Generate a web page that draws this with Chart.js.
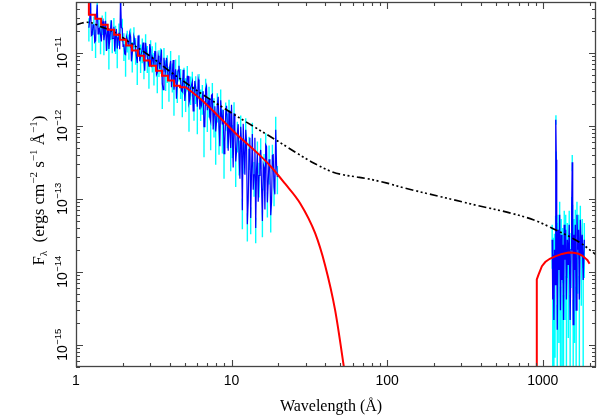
<!DOCTYPE html>
<html>
<head>
<meta charset="utf-8">
<script src="https://cdn.jsdelivr.net/npm/chart.js@4/dist/chart.umd.min.js"></script>
<style>
html,body{margin:0;padding:0;background:#fff;overflow:hidden;}
canvas{display:block;}
</style>
</head>
<body>
<canvas id="c" width="598" height="418"></canvas>
<script>
// ---------- DATA ----------
// X-ray spectrum, two interleaved sets of bins (wavelength in Angstrom, flux in erg cm^-2 s^-1 A^-1)
const xrayWave = [1.21,1.24,1.271,1.303,1.336,1.369,1.403,1.438,1.474,1.511,1.549,1.588,1.627,1.668,1.710,1.752,1.796,1.841,1.887,1.934,1.983,2.032,2.083,2.135,2.189,2.243,2.299,2.357,2.416,2.476,2.538,2.602,2.667,2.733,2.802,2.872,2.943,3.017,3.092,3.170,3.249,3.330,3.413,3.499,3.586,3.676,3.768,3.862,3.958,4.057,4.159,4.263,4.369,4.478,4.590,4.705,4.823,4.944,5.067,5.194,5.324,5.457,5.593,5.733,5.877,6.024,6.174,6.329,6.487,6.649,6.815,6.986,7.160,7.339,7.523,7.711,7.904,8.102,8.304,8.512,8.725,8.943,9.166,9.396,9.630,9.871,10.12,10.37,10.63,10.89,11.17,11.45,11.73,12.03,12.33,12.63,12.95,13.27,13.60,13.94,14.29,14.65,15.02,15.39,15.78,16.17,16.58,16.99,17.42,17.85,18.30,18.75,19.22,19.70];
const xrayFlux = [2.22e-11,5.5e-11,1.78e-11,2.48e-11,1.47e-11,4.6e-11,2.16e-11,1.75e-11,2.52e-11,1.5e-11,2.77e-11,1.8e-11,1.14e-11,2.16e-11,1.57e-11,2.29e-11,1.67e-11,1.15e-11,1.9e-11,6e-11,2.18e-11,1.32e-11,9.5e-12,1.52e-11,1.30e-11,1.67e-11,9.8e-12,1.67e-11,1.15e-11,7.3e-12,1.34e-11,9.2e-12,1.15e-11,8.1e-12,1.38e-11,8.9e-12,6.5e-12,1.11e-11,8.9e-12,6.8e-12,1.04e-11,5.4e-12,7.8e-12,8.4e-12,3.8e-12,8.6e-12,5.5e-12,6.6e-12,4.31e-12,7.8e-12,5.04e-12,3.14e-12,6.0e-12,3.9e-12,6.7e-12,4.2e-12,2.94e-12,4.5e-12,3.04e-12,4.8e-12,2.08e-12,3.35e-12,4.04e-12,2.36e-12,3.4e-12,1.84e-12,3.75e-12,2.17e-12,2.54e-12,9.8e-13,3.17e-12,1.65e-12,2.38e-12,1.16e-12,2.73e-12,1.55e-12,8.4e-13,1.96e-12,9.6e-13,2.26e-12,1.05e-12,4.2e-13,1.48e-12,9.9e-13,1.63e-12,5.0e-13,7.0e-13,1.49e-12,3.26e-13,7.9e-13,4.2e-13,9.8e-13,7.0e-14,4.45e-13,8.9e-13,4.5e-14,4.8e-13,5.5e-14,7.8e-13,2.15e-13,4.0e-14,4.2e-13,2.1e-13,4.7e-13,5.0e-14,2.73e-13,5.5e-13,9.0e-14,3.5e-13,6.0e-14,3.97e-13,1.45e-13,8.9e-13,2.0e-13];
const xrayRelErr = [0.35,0.3,0.4,0.28,0.42,0.3,0.36,0.45,0.3,0.38,0.33,0.4,0.48,0.3,0.37,0.32,0.42,0.46,0.34,0.25,0.35,0.41,0.5,0.33,0.38,0.3,0.45,0.35,0.4,0.5,0.33,0.42,0.37,0.46,0.31,0.4,0.5,0.35,0.39,0.47,0.34,0.48,0.4,0.38,0.55,0.36,0.45,0.41,0.5,0.37,0.43,0.56,0.36,0.47,0.39,0.44,0.55,0.4,0.49,0.38,0.6,0.42,0.37,0.5,0.41,0.58,0.38,0.46,0.44,0.62,0.4,0.5,0.45,0.6,0.42,0.55,0.65,0.43,0.58,0.4,0.6,0.55,0.42,0.5,0.4,0.52,0.48,0.42,0.55,0.45,0.5,0.42,0.45,0.5,0.44,0.42,0.48,0.4,0.42,0.5,0.38,0.46,0.5,0.45,0.4,0.52,0.45,0.38,0.55,0.42,0.4,0.45,0.5,0.42];
const xrayWave2 = [1.225,1.255,1.287,1.319,1.352,1.386,1.420,1.456,1.492,1.530,1.568,1.607,1.647,1.689,1.731,1.774,1.818,1.864,1.910,1.958,2.007,2.057,2.109,2.162,2.216,2.271,2.328,2.386,2.446,2.507,2.570,2.634,2.700,2.767,2.837,2.907,2.980,3.054,3.131,3.209,3.289,3.371,3.456,3.542,3.631,3.722,3.815,3.910,4.007,4.108,4.211,4.316,4.423,4.534,4.647,4.764,4.883,5.005,5.130,5.259,5.390,5.525,5.663,5.805,5.950,6.099,6.251,6.408,6.568,6.732,6.900,7.073,7.249,7.431,7.617,7.807,8.003,8.203,8.408,8.618,8.834,9.054,9.281,9.513,9.750,9.99,10.24,10.50,10.76,11.03,11.31,11.59,11.88,12.18,12.48,12.79,13.11,13.44,13.77,14.12,14.47,14.83,15.20,15.59,15.97,16.38,16.78,17.20,17.63,18.07,18.52,18.98,19.46];
const xrayFlux2 = [2.86e-11,1.73e-11,2.44e-11,1.41e-11,3.1e-11,1.83e-11,2.2e-11,1.44e-11,2.73e-11,1.86e-11,1.07e-11,2.2e-11,1.49e-11,2.8e-11,1.58e-11,1.05e-11,2.14e-11,1.62e-11,1.13e-11,2.22e-11,1.23e-11,9.7e-12,1.68e-11,1.33e-11,1.87e-11,7.7e-12,1.32e-11,1.5e-11,9.0e-12,1.74e-11,7.7e-12,9.9e-12,1.39e-11,5.7e-12,1.07e-11,7.8e-12,1.33e-11,6.4e-12,8.2e-12,1.05e-11,5.05e-12,9.2e-12,6.05e-12,1.12e-11,3.15e-12,6.45e-12,8.6e-12,4.5e-12,6.6e-12,3.4e-12,8.0e-12,4.35e-12,2.36e-12,5.85e-12,4.65e-12,3.04e-12,5.9e-12,2.2e-12,3.57e-12,4.8e-12,2.34e-12,3.6e-12,1.61e-12,4.15e-12,2.58e-12,4.35e-12,1.69e-12,1.93e-12,3.0e-12,1.03e-12,3.5e-12,1.96e-12,1.3e-12,2.65e-12,9.0e-13,1.87e-12,1.15e-12,2.52e-12,5.3e-13,1.4e-12,1.67e-12,6.1e-13,1.89e-12,4.6e-13,8.1e-13,1.96e-12,2.7e-13,9.7e-13,4.45e-13,1.06e-12,1.9e-13,5.5e-13,1.07e-12,2.15e-13,6.1e-13,9.3e-14,6.9e-13,2.52e-13,1.34e-13,6.9e-13,2.52e-13,9.2e-14,4.0e-13,1.42e-13,3.0e-13,7.2e-14,5.2e-13,1.7e-13,2.65e-13,9.1e-14,4.04e-13,1.16e-13,2.9e-13];

// UV spectrum
const uvWave = [1150,1160,1170,1180,1190,1200,1210,1216,1222,1230,1240,1255,1270,1285,1300,1315,1330,1345,1360,1375,1390,1405,1420,1440,1460,1480,1500,1520,1535,1548,1558,1570,1585,1600,1620,1640,1660,1680,1700,1720,1745,1770,1795,1820,1850];
const uvFlux = [2.77e-14,4.2e-15,1.73e-14,2.2e-15,2.02e-14,6.7e-15,3.8e-14,1.22e-12,3.45e-13,2.77e-14,1.62e-15,3.8e-14,1.07e-14,6.1e-14,3.0e-15,3.24e-14,7.8e-15,2.36e-14,2.2e-15,4.45e-14,1.47e-14,3.8e-14,4.2e-15,2.77e-14,1.25e-14,4.45e-14,2.2e-15,2.02e-14,7.1e-14,3.2e-13,5.2e-14,1.9e-15,3.24e-14,1.07e-14,4.45e-14,3.0e-15,6.1e-14,2.02e-14,3.8e-14,4.2e-15,5.2e-14,1.73e-14,3.24e-14,7.8e-15,2.77e-14];
const uvRelErr = [0.6,1.1,0.7,1.2,0.65,0.9,0.55,0.15,0.3,0.7,1.2,0.6,0.9,0.5,1.1,0.65,0.95,0.7,1.2,0.55,0.85,0.6,1.1,0.7,0.9,0.55,1.2,0.7,0.5,0.25,0.6,1.2,0.65,0.9,0.6,1.1,0.5,0.75,0.6,1.1,0.55,0.8,0.65,1.0,0.7];

// Red model: binned (stepped) part, smooth X-ray tail, UV part
const modelStepWave = [1.21,1.21,1.33,1.45,1.60,1.76,1.92,2.10,2.29,2.50,2.73,2.99,3.27,3.57,3.90,4.27,4.66,5.09];
const modelStepFlux = [6e-11,3.92e-11,3.35e-11,2.95e-11,2.44e-11,2.09e-11,1.78e-11,1.52e-11,1.27e-11,1.08e-11,9.2e-12,7.9e-12,6.7e-12,5.7e-12,4.9e-12,4.2e-12,3.56e-12,3.4e-12];
const modelTailWave = [5.09,6.56,8.43,10.85,14.58,17.69,22.08,27.57,34.44,39.9,46.3,53.7];
const modelTailFlux = [3.4e-12,2.19e-12,1.30e-12,7.6e-13,4.31e-13,2.86e-13,1.62e-13,8.76e-14,3.40e-14,1.24e-14,3.0e-15,3.85e-16];
const modelUvWave = [916,916,940,988,1038,1110,1203,1330,1466,1580,1700,1800,1876,1940,2000];
const modelUvFlux = [1e-17,7.9e-15,9.2e-15,1.2e-14,1.37e-14,1.52e-14,1.64e-14,1.77e-14,1.85e-14,1.84e-14,1.78e-14,1.67e-14,1.55e-14,1.45e-14,1.3e-14];

// Black dash-dot model
const dustWave = [1.0,1.08,1.16,1.26,1.4,1.73,2.22,2.99,4.02,6.27,11.34,19.62,33.43,44.95,52.1,62.3,74.4,100,121,327,869,1168,1742,2242];
const dustFlux = [2.43e-11,2.56e-11,2.64e-11,2.6e-11,2.35e-11,1.98e-11,1.39e-11,9.1e-12,5.6e-12,2.86e-12,1.28e-12,6.29e-13,3.14e-13,2.33e-13,2.15e-13,2.02e-13,1.90e-13,1.65e-13,1.47e-13,8.8e-14,5.2e-14,3.92e-14,2.52e-14,1.67e-14];

// Tick labels
const xTickValues = [1,10,100,1000];
const xTickLabels = ['1','10','100','1000'];
const yTickValues = [1e-15,1e-14,1e-13,1e-12,1e-11];
const yTickExps = ['\u221215','\u221214','\u221213','\u221212','\u221211'];

// ---------- BUILD ----------
function pts(xs, ys){ const n=Math.min(xs.length,ys.length); const a=[]; for(let i=0;i<n;i++) a.push({x:xs[i],y:ys[i]}); return a; }
function merged(){ return pts(xrayWave,xrayFlux).concat(pts(xrayWave2,xrayFlux2)).sort((a,b)=>a.x-b.x); }
function errBars(xs, ys, rel){
  const a=[]; const n=Math.min(xs.length,ys.length);
  for(let i=0;i<n;i++){
    const r = (rel[i]!==undefined)?rel[i]:0.4;
    const hi = ys[i]*(1+r);
    const lo = r<1 ? ys[i]*(1-r) : 1e-17;
    a.push({x:xs[i],y:hi},{x:xs[i],y:lo},{x:xs[i],y:null});
  }
  return a;
}

const SANS = "'Liberation Sans', Arial, Helvetica, sans-serif";
const SERIF = "'Liberation Serif', 'Times New Roman', Times, serif";

const axesPlugin = {
  id:'axesPlugin',
  afterDraw(chart){
    const ctx = chart.ctx, ca = chart.chartArea;
    const xs = chart.scales.x, ys = chart.scales.y;
    ctx.save();
    ctx.strokeStyle = '#444';
    ctx.lineWidth = 1.3;
    ctx.strokeRect(ca.left+0.5, ca.top+0.5, ca.right-ca.left-1, ca.bottom-ca.top-1);
    ctx.lineWidth = 1.1;
    ctx.beginPath();
    for(let k=0;k<=3;k++){
      for(let m=1;m<=9;m++){
        const v = m*Math.pow(10,k);
        if(v<xs.min || v>xs.max) continue;
        const p = Math.round(xs.getPixelForValue(v))+0.5;
        const L = m===1?7:4;
        ctx.moveTo(p,ca.bottom); ctx.lineTo(p,ca.bottom-L);
        ctx.moveTo(p,ca.top); ctx.lineTo(p,ca.top+L);
      }
    }
    for(let k=-16;k<=-11;k++){
      for(let m=1;m<=9;m++){
        const v = m*Math.pow(10,k);
        if(v<ys.min*0.999 || v>ys.max*1.001) continue;
        const p = Math.round(ys.getPixelForValue(v))+0.5;
        const L = m===1?7:4;
        ctx.moveTo(ca.left,p); ctx.lineTo(ca.left+L,p);
        ctx.moveTo(ca.right,p); ctx.lineTo(ca.right-L,p);
      }
    }
    ctx.stroke();

    ctx.fillStyle = '#000';
    ctx.font = '14px '+SANS;
    ctx.textAlign = 'center';
    ctx.textBaseline = 'alphabetic';
    xTickValues.forEach((v,i)=>{
      ctx.fillText(xTickLabels[i], xs.getPixelForValue(v), 384.5);
    });

    yTickValues.forEach((v,i)=>{
      const py = ys.getPixelForValue(v);
      ctx.save();
      ctx.translate(66.5, py);
      ctx.rotate(-Math.PI/2);
      ctx.textAlign='left';
      ctx.font = '14px '+SANS;
      const wb = ctx.measureText('10').width;
      ctx.font = '9.5px '+SANS;
      const ws = ctx.measureText(yTickExps[i]).width;
      const start = -(wb+ws)/2;
      ctx.font = '14px '+SANS;
      ctx.fillText('10', start, 0);
      ctx.font = '9.5px '+SANS;
      ctx.fillText(yTickExps[i], start+wb+0.5, -6);
      ctx.restore();
    });

    ctx.font = '16px '+SERIF;
    ctx.textAlign = 'center';
    ctx.fillText('Wavelength (\u00C5)', 331, 411);

    const segs = [
      {t:'F', s:17, dy:0},
      {t:'\u03BB', s:10.5, dy:3},
      {t:'  (ergs cm', s:17, dy:0},
      {t:'\u22122', s:11, dy:-7},
      {t:' s', s:17, dy:0},
      {t:'\u22121', s:11, dy:-7},
      {t:' \u00C5', s:17, dy:0},
      {t:'\u22121', s:11, dy:-7},
      {t:')', s:17, dy:0}
    ];
    let total = 0;
    segs.forEach(sg=>{ ctx.font = sg.s+'px '+SERIF; sg.w = ctx.measureText(sg.t).width; total += sg.w; });
    ctx.save();
    ctx.translate(43.5, 190.5);
    ctx.rotate(-Math.PI/2);
    ctx.textAlign='left';
    let cx = -total/2;
    segs.forEach(sg=>{ ctx.font = sg.s+'px '+SERIF; ctx.fillText(sg.t, cx, sg.dy); cx += sg.w; });
    ctx.restore();
    ctx.restore();
  }
};

new Chart(document.getElementById('c').getContext('2d'), {
  type:'line',
  data:{
    datasets:[
      {label:'model (UV)', data:pts(modelUvWave, modelUvFlux), borderColor:'#ff0000', borderWidth:2, order:0},
      {label:'model (binned)', data:pts(modelStepWave, modelStepFlux), borderColor:'#ff0000', borderWidth:2, stepped:'after', order:0},
      {label:'model', data:pts(modelTailWave, modelTailFlux), borderColor:'#ff0000', borderWidth:2, cubicInterpolationMode:'monotone', order:0},
      {label:'continuum', data:pts(dustWave, dustFlux), borderColor:'#000000', borderWidth:1.7, borderDash:[8,3,2,2.5,2,2.5,2,3], cubicInterpolationMode:'monotone', order:1},
      {label:'X-ray', data:merged(), borderColor:'#0000ff', borderWidth:1.2, order:2},
      {label:'UV', data:pts(uvWave, uvFlux), borderColor:'#0000ff', borderWidth:1.3, order:2},
      {label:'X-ray err', data:errBars(xrayWave, xrayFlux, xrayRelErr), borderColor:'#00ffff', borderWidth:1.4, spanGaps:false, order:3},
      {label:'UV err', data:errBars(uvWave, uvFlux, uvRelErr), borderColor:'#00ffff', borderWidth:1.4, spanGaps:false, order:3}
    ]
  },
  options:{
    responsive:false,
    animation:false,
    devicePixelRatio:1,
    events:[],
    layout:{padding:{left:76,right:2,top:2,bottom:51}},
    plugins:{legend:{display:false}, tooltip:{enabled:false}},
    elements:{point:{radius:0}, line:{tension:0, fill:false}},
    scales:{
      x:{type:'logarithmic', min:1, max:2200, display:false},
      y:{type:'logarithmic', min:5e-16, max:5e-11, display:false}
    }
  },
  plugins:[axesPlugin]
});
</script>
</body>
</html>
